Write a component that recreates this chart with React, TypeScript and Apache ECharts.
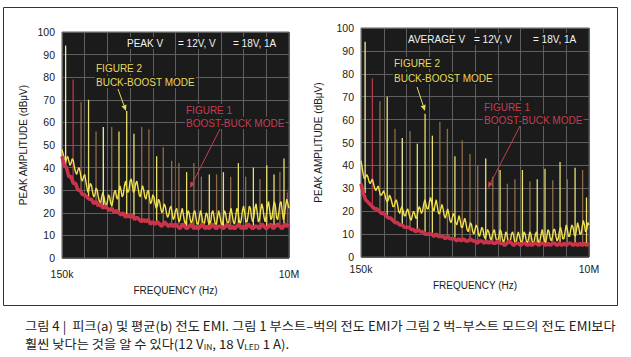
import React, { useEffect, useRef } from "react";
import * as echarts from "echarts";

// ---------- data ----------
const xTickLabels = ["150k", "10M"];
const yAxisTitle = "PEAK AMPLITUDE (dBμV)";
const xAxisTitle = "FREQUENCY (Hz)";

// yellow trace (Figure 2, buck-boost), sampled every 0.5 % of the sweep
const peakYellow = [
  48, 46, 44, 42, 44, 45, 43, 41, 42, 44,
  43, 40, 38, 37, 39, 40, 38, 35, 34, 36,
  37, 34, 31, 29, 31, 33, 32, 29, 27, 28,
  31, 30, 27, 25, 24, 27, 29, 27, 24, 23,
  25, 28, 27, 24, 23, 26, 29, 30, 27, 26,
  29, 32, 30, 27, 28, 32, 34, 31, 29, 30,
  34, 35, 32, 29, 30, 33, 34, 31, 28, 27,
  30, 32, 30, 27, 26, 29, 30, 27, 24, 25,
  28, 27, 24, 22, 23, 26, 25, 22, 20, 21,
  24, 23, 20, 18, 19, 22, 23, 20, 17, 18,
  21, 22, 19, 16, 17, 20, 22, 19, 16, 15,
  18, 21, 20, 17, 15, 17, 20, 21, 18, 15,
  15, 18, 21, 19, 16, 14, 17, 20, 19, 16,
  14, 16, 20, 21, 18, 15, 15, 18, 21, 19,
  16, 14, 17, 21, 20, 17, 15, 16, 20, 22,
  19, 16, 15, 18, 22, 21, 17, 15, 17, 21,
  23, 20, 16, 16, 19, 23, 22, 18, 16, 18,
  22, 24, 20, 16, 17, 21, 24, 22, 18, 16,
  19, 23, 25, 21, 17, 18, 22, 25, 23, 18,
  17, 20, 24, 25, 21, 17, 19, 23, 26, 24,
  22,
];
// red trace (Figure 1, boost-buck), sampled every 1 %
const peakRed = [
  45, 41, 40, 36, 36, 33, 33, 30, 30, 28,
  28, 27, 26, 26, 24, 25, 23, 24, 22, 23,
  22, 21, 22, 20, 21, 20, 19, 20, 18, 19,
  18, 19, 17, 18, 17, 16, 17, 16, 17, 15,
  16, 15, 16, 15, 14, 16, 15, 14, 15, 14,
  15, 14, 13, 15, 14, 13, 14, 15, 13, 14,
  13, 14, 15, 13, 14, 13, 15, 14, 13, 14,
  14, 13, 14, 15, 13, 14, 13, 14, 15, 13,
  14, 13, 15, 14, 13, 14, 14, 13, 15, 14,
  13, 14, 15, 13, 14, 15, 14, 13, 15, 14,
  15,
];
const avgYellow = [
  42, 39, 36, 34, 35, 36, 35, 33, 32, 33,
  34, 32, 30, 29, 30, 31, 29, 27, 27, 28,
  29, 27, 25, 24, 25, 27, 26, 24, 22, 22,
  24, 25, 23, 20, 19, 21, 22, 20, 18, 18,
  20, 21, 19, 17, 16, 18, 20, 19, 17, 17,
  20, 22, 21, 19, 20, 23, 25, 23, 21, 21,
  24, 26, 24, 21, 20, 23, 25, 22, 19, 19,
  21, 23, 21, 18, 17, 19, 21, 19, 16, 15,
  17, 19, 18, 15, 14, 16, 18, 16, 13, 13,
  15, 17, 15, 12, 11, 13, 15, 14, 11, 10,
  12, 14, 13, 10, 9, 11, 13, 12, 9, 8,
  10, 12, 11, 9, 7, 9, 11, 12, 9, 7,
  7, 9, 12, 11, 8, 6, 8, 11, 10, 7,
  6, 7, 10, 11, 9, 6, 6, 9, 11, 9,
  7, 6, 8, 11, 10, 7, 6, 8, 11, 10,
  7, 6, 7, 10, 11, 8, 6, 7, 10, 12,
  9, 7, 6, 9, 12, 11, 8, 7, 9, 12,
  12, 9, 7, 8, 11, 13, 11, 8, 8, 11,
  14, 12, 9, 9, 12, 14, 13, 10, 9, 12,
  15, 13, 10, 10, 13, 16, 14, 11, 12, 15,
  14,
];
const avgRed = [
  32, 28, 25, 24, 23, 22, 21, 21, 20, 19,
  19, 18, 17, 17, 16, 15, 15, 14, 14, 13,
  13, 13, 12, 12, 11, 12, 11, 11, 10, 10,
  10, 10, 9, 10, 9, 9, 9, 8, 9, 8,
  8, 8, 7, 8, 7, 8, 7, 7, 8, 7,
  7, 6, 7, 7, 6, 7, 6, 7, 6, 6,
  7, 6, 6, 5, 6, 7, 6, 5, 6, 6,
  5, 6, 6, 5, 6, 5, 6, 6, 5, 6,
  6, 5, 6, 5, 6, 6, 5, 6, 5, 6,
  5, 6, 6, 5, 6, 5, 6, 5, 6, 5,
  6,
];

// harmonic spikes: position (% of sweep), top (dBμV), floor (dBμV), tone
const peakSpikePos = [1.6, 4.9, 8.4, 11.7, 15.0, 18.2, 21.9, 25.1, 28.5, 31.7, 35.1, 38.3, 41.7, 44.6, 48.3, 51.5, 54.9, 58.1, 61.4, 64.9, 68.1, 71.1, 74.3, 77.7, 80.9, 84.3, 87.2, 90.2, 93.4, 96.0, 97.8, 99.3];
const peakSpikeTop = [94, 79, 69, 70, 56, 58, 58, 56, 65, 55, 58, 57, 45, 49, 43, 42, 38, 42, 36, 37, 37, 38, 36, 42, 36, 40, 35, 41, 37, 38, 44, 29];
const peakSpikeFloor = [40, 34, 30, 27, 25, 23, 22, 20, 19, 18, 17, 17, 16, 16, 15, 15, 14, 14, 14, 14, 14, 14, 14, 14, 14, 14, 14, 14, 14, 14, 14, 14];
const peakSpikeTone = [0, 3, 2, 1, 2, 0, 2, 1, 1, 1, 2, 2, 1, 2, 2, 2, 1, 2, 2, 1, 2, 1, 2, 1, 2, 1, 2, 1, 1, 2, 1, 3];

const avgSpikePos = [1.8, 5.0, 8.3, 11.5, 14.9, 18.1, 21.5, 24.7, 28.1, 31.3, 34.6, 37.9, 41.2, 44.4, 47.8, 51.2, 54.7, 57.8, 61.0, 64.2, 67.5, 70.8, 74.1, 77.3, 80.7, 84.1, 87.3, 90.5, 93.9, 97.2, 98.9];
const avgSpikeTop = [94, 78, 68, 70, 56, 52, 55, 49.5, 62.6, 53, 59, 56, 44, 51, 45, 40, 43, 35, 38, 32, 34, 38, 33, 34, 38.5, 33.5, 41.5, 34, 39, 38, 26];
const avgSpikeFloor = [28, 23, 20, 18, 16, 14, 13, 12, 11, 10, 9.5, 9, 8.5, 8, 7.5, 7, 7, 6.5, 6.5, 6, 6, 6, 6, 6, 6, 6, 6, 6, 6, 6, 6];
const avgSpikeTone = [0, 3, 2, 1, 2, 0, 2, 1, 1, 1, 2, 2, 1, 2, 2, 2, 1, 2, 1, 2, 2, 1, 2, 1, 1, 2, 1, 2, 1, 2, 1];

const captionLine1 = "그림 4 |  피크(a) 및 평균(b) 전도 EMI. 그림 1 부스트–벅의 전도 EMI가 그림 2 벅–부스트 모드의 전도 EMI보다";
const captionLine2 = "훨씬 낮다는 것을 알 수 있다(12 V{s|IN}, 18 V{s|LED} 1 A).";

// ---------- styles ----------
const FONT = "'Liberation Sans', Arial, sans-serif";
const KFONT = "'Noto Sans CJK KR', sans-serif";
const PLOT_BG = "#1b1b1b";
const GRID_LINE = "#5e5e5e";
const YELLOW = "#f0e04c";
const RED = "#c9344a";
const TEXT_YELLOW = "#e6da5e";
const TEXT_RED = "#c53e52";
const spikeTones = ["#f3eca4", "#ebdf6c", "#8f6c47", "#b8384a"];

function arrow(x1: number, y1: number, x2: number, y2: number, color: string) {
  const a = Math.atan2(y2 - y1, x2 - x1);
  const L = 6, W = 2.6;
  const bx = x2 - L * Math.cos(a), by = y2 - L * Math.sin(a);
  return [
    { type: "line", shape: { x1, y1, x2: bx, y2: by }, style: { stroke: color, lineWidth: 1 }, z: 20 },
    {
      type: "polygon",
      shape: { points: [[x2, y2], [bx + W * Math.sin(a), by - W * Math.cos(a)], [bx - W * Math.sin(a), by + W * Math.cos(a)]] },
      style: { fill: color },
      z: 20,
    },
  ];
}

function label(text: string, x: number, y: number, color: string, bg = true) {
  return {
    type: "text",
    x, y,
    z: 19,
    style: {
      text, fill: color, fontSize: 10, fontFamily: FONT,
      verticalAlign: "middle", align: "left",
      backgroundColor: bg ? PLOT_BG : undefined, padding: [1, 1],
    },
  };
}

function panelSeries(idx: number, yellow: number[], red: number[], pos: number[], top: number[], floor: number[], tone: number[]) {
  return [
    {
      type: "custom",
      xAxisIndex: idx, yAxisIndex: idx,
      clip: true,
      z: 2,
      encode: { x: 0, y: [1, 2] },
      data: pos.map((p, k) => [p, floor[k], top[k], tone[k]]),
      renderItem: (params: any, api: any) => {
        const a = api.coord([api.value(0), api.value(1)]);
        const b = api.coord([api.value(0), api.value(2)]);
        return {
          type: "line",
          shape: { x1: a[0], y1: a[1], x2: b[0], y2: b[1] },
          style: { stroke: spikeTones[api.value(3)], lineWidth: 1.3 },
        };
      },
    },
    {
      type: "line",
      xAxisIndex: idx, yAxisIndex: idx,
      z: 3,
      showSymbol: false,
      data: yellow.map((v, k) => [k * 0.5, v]),
      lineStyle: { color: YELLOW, width: 1.4 },
    },
    {
      type: "line",
      xAxisIndex: idx, yAxisIndex: idx,
      z: 4,
      showSymbol: false,
      data: red.map((v, k) => [k, v]),
      lineStyle: { color: RED, width: 3.6 },
    },
  ];
}

function xAxis(idx: number, gap: number, margin: number) {
  return {
    type: "value", gridIndex: idx, min: 0, max: 100, interval: 10,
    axisLine: { show: false }, axisTick: { show: false },
    splitLine: { show: true, lineStyle: { color: GRID_LINE, width: 1 } },
    axisLabel: {
      margin, fontSize: 10.5, color: "#1a1a1a", fontFamily: FONT,
      formatter: (v: number) => (v === 0 ? xTickLabels[0] : v === 100 ? xTickLabels[1] : ""),
    },
    name: xAxisTitle, nameLocation: "middle", nameGap: gap,
    nameTextStyle: { fontSize: 10, color: "#1a1a1a", fontFamily: FONT },
  };
}
function yAxis(idx: number, gap: number) {
  return {
    type: "value", gridIndex: idx, min: 0, max: 100, interval: 10,
    axisLine: { show: false }, axisTick: { show: false },
    splitLine: { show: true, lineStyle: { color: GRID_LINE, width: 1 } },
    axisLabel: { margin: 7, fontSize: 10.5, color: "#1a1a1a", fontFamily: FONT },
    name: yAxisTitle, nameLocation: "middle", nameGap: gap,
    nameTextStyle: { fontSize: 10, color: "#1a1a1a", fontFamily: FONT },
  };
}

export default function App() {
  const ref = useRef<HTMLDivElement>(null);
  useEffect(() => {
    if (!ref.current) return;
    const chart = echarts.init(ref.current, undefined, { renderer: "svg" });
    const graphic: any[] = [
      { type: "rect", shape: { x: 3.5, y: 7.5, width: 614, height: 298 }, style: { fill: "none", stroke: "#333", lineWidth: 1 }, z: 0 },
      // left panel annotations
      label("PEAK V", 126, 43, "#f2f2f2"),
      label("= 12V, V", 177, 43, "#f2f2f2"),
      label("= 18V, 1A", 232, 43, "#f2f2f2"),
      label("FIGURE 2", 95, 68, TEXT_YELLOW),
      label("BUCK-BOOST MODE", 95, 82, TEXT_YELLOW),
      label("FIGURE 1", 185, 110, TEXT_RED),
      label("BOOST-BUCK MODE", 185, 123, TEXT_RED),
      ...arrow(118, 89, 126, 111, TEXT_YELLOW),
      ...arrow(220, 129, 190, 188, TEXT_RED),
      // right panel annotations
      label("AVERAGE V", 407, 39, "#f2f2f2"),
      label("= 12V, V", 473, 39, "#f2f2f2"),
      label("= 18V, 1A", 532, 39, "#f2f2f2"),
      label("FIGURE 2", 393, 63, TEXT_YELLOW),
      label("BUCK-BOOST MODE", 393, 78, TEXT_YELLOW),
      label("FIGURE 1", 483, 107, TEXT_RED),
      label("BOOST-BUCK MODE", 483, 120, TEXT_RED),
      ...arrow(417, 87, 425, 111, TEXT_YELLOW),
      ...arrow(520, 126, 488, 188, TEXT_RED),
      // caption
      {
        type: "text", x: 25, y: 326, z: 10, scaleX: 1.06,
        style: { text: captionLine1, fill: "#222", fontSize: 12.5, fontFamily: KFONT, verticalAlign: "middle" },
      },
      {
        type: "text", x: 25, y: 344, z: 10, scaleX: 1.06,
        style: {
          text: captionLine2, fill: "#222", fontSize: 12.5, fontFamily: KFONT, verticalAlign: "middle",
          rich: { s: { fontSize: 8, fontFamily: KFONT, fill: "#222", verticalAlign: "bottom", padding: [4, 0, 0, 0] } },
        },
      },
    ];
    chart.setOption({
      animation: false,
      backgroundColor: "#ffffff",
      grid: [
        { left: 62, top: 32, width: 227, height: 226, show: true, backgroundColor: PLOT_BG, borderColor: GRID_LINE, borderWidth: 1 },
        { left: 361, top: 28, width: 228, height: 229, show: true, backgroundColor: PLOT_BG, borderColor: GRID_LINE, borderWidth: 1 },
      ],
      xAxis: [xAxis(0, 27, 10), xAxis(1, 23, 6)],
      yAxis: [yAxis(0, 34), yAxis(1, 38)],
      series: [
        ...panelSeries(0, peakYellow, peakRed, peakSpikePos, peakSpikeTop, peakSpikeFloor, peakSpikeTone),
        ...panelSeries(1, avgYellow, avgRed, avgSpikePos, avgSpikeTop, avgSpikeFloor, avgSpikeTone),
      ],
      graphic,
    });
    return () => chart.dispose();
  }, []);
  return <div ref={ref} style={{ position: "absolute", left: 0, top: 0, width: 631, height: 357 }} />;
}
